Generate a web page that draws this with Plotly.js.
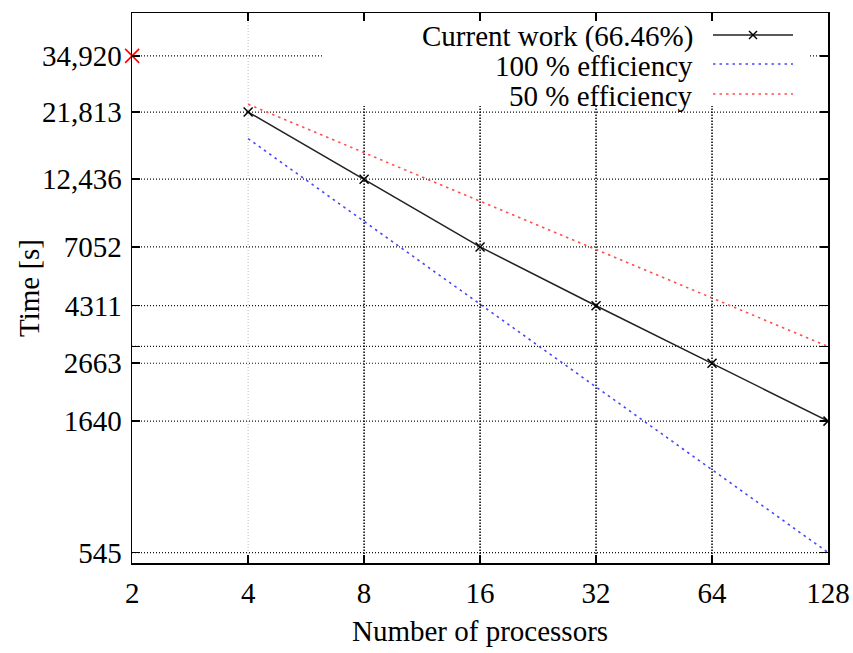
<!DOCTYPE html>
<html>
<head>
<meta charset="utf-8">
<script src="https://cdn.plot.ly/plotly-3.0.1.min.js"></script>
<style>html,body{margin:0;padding:0;background:#fff;}#chart{width:853px;height:653px;}</style>
</head>
<body>
<div id="chart"></div>
<script>
// ---- data ----
var processors   = [4, 8, 16, 32, 64, 128];
var currentTime  = [21813, 12436, 7052, 4311, 2663, 1640];
var ideal100     = [17460, 8730, 4365, 2183, 1091, 546];
var eff50        = [23280, 15520, 10347, 6898, 4599, 3066];
var serialProc   = [2];
var serialTime   = [34920];
var seriesNames  = ['Current work (66.46%)', '100 % efficiency', '50 % efficiency'];
var xTicks       = [2, 4, 8, 16, 32, 64, 128];
var yTicks       = [545, 1640, 2663, 3066, 4311, 7052, 12436, 21813, 34920];
var yTickText    = ['545', '1640', '2663', '', '4311', '7052', '12,436', '21,813', '34,920'];
var xTitle = 'Number of processors';
var yTitle = 'Time [s]';

// ---- styling ----
var FONT = 'Liberation Serif';
var FS = 29;
var W = 853, H = 653;
var M = {l: 132, r: 25, t: 13, b: 90};
var plotW = W - M.l - M.r, plotH = H - M.t - M.b;
function px(x) { return (x - M.l) / plotW; }      // pixel -> paper x
function py(y) { return (H - M.b - y) / plotH; }  // pixel -> paper y
var gridDash = '1px,2px';
var vGridDash = '1.5px,1.5px';
var colDash = '2.5px,4px';
var BLUE = '#4646ff', RED = '#ff4d4d', BLK = '#222';
var GRID = '#111', GRID_LIGHT = '#c8c8c8';
var yRange = [Math.log10(500), Math.log10(50000)];
var xRange = [Math.log10(2) - 0.0004, Math.log10(128)];
var keyBottomVal = Math.pow(10, yRange[0] + py(106) * (yRange[1] - yRange[0]));
var yMinVal = Math.pow(10, yRange[0]);
var yMaxVal = Math.pow(10, yRange[1]);

var traces = [];
// vertical grid lines at the inner x ticks
xTicks.slice(1, -1).forEach(function (v, i) {
  traces.push({x: [v, v], y: [yMinVal, i === 0 ? yMaxVal : keyBottomVal], mode: 'lines',
    hoverinfo: 'skip', showlegend: false,
    line: {color: i === 0 ? GRID_LIGHT : '#000', width: i === 0 ? 1.2 : 1.5, dash: i === 0 ? gridDash : vGridDash}});
});
traces.push(
  {x: processors, y: currentTime, mode: 'lines+markers', name: seriesNames[0],
   line: {color: BLK, width: 1.5},
   marker: {symbol: 'x-thin-open', size: 9, color: '#000', line: {width: 1.5, color: '#000'}}},
  {x: processors, y: ideal100, mode: 'lines', name: seriesNames[1],
   line: {color: BLUE, width: 1.6, dash: colDash}},
  {x: processors, y: eff50, mode: 'lines', name: seriesNames[2],
   line: {color: RED, width: 1.6, dash: colDash}},
  {x: serialProc, y: serialTime, mode: 'markers', name: 'serial', cliponaxis: false,
   marker: {symbol: 'x-thin-open', size: 14, color: '#ff0000', line: {width: 1.6, color: '#ff0000'}}}
);

var shapes = [];
yTicks.forEach(function (v) {
  shapes.push({type: 'line', layer: 'below', xref: 'x domain', yref: 'y',
    x0: 0, x1: 1, y0: v, y1: v,
    line: {color: GRID, width: 1.2, dash: gridDash}});
});
shapes.push({type: 'rect', layer: 'below', xref: 'x domain', yref: 'y domain',
  x0: px(323), x1: px(810), y0: py(106), y1: py(14),
  fillcolor: '#ffffff', line: {width: 0}});

var keyRows = [36, 66, 96];
var keySampleY = [35, 64, 94];
var keyStyles = [{color: BLK, width: 1.5}, {color: BLUE, width: 1.6, dash: colDash}, {color: RED, width: 1.6, dash: colDash}];
var annotations = [];
for (var i = 0; i < 3; i++) {
  annotations.push({xref: 'paper', yref: 'paper', x: px(695), y: py(keyRows[i]),
    xanchor: 'right', yanchor: 'middle', showarrow: false, text: seriesNames[i],
    font: {family: FONT, size: FS, color: '#000'}});
  shapes.push({type: 'line', layer: 'above', xref: 'paper', yref: 'paper',
    x0: px(713), x1: px(793), y0: py(keySampleY[i]), y1: py(keySampleY[i]), line: keyStyles[i]});
}
[0, 1].forEach(function (j) {
  shapes.push({type: 'line', layer: 'above', xref: 'paper', yref: 'paper',
    xsizemode: 'pixel', ysizemode: 'pixel', xanchor: px(753), yanchor: py(keySampleY[0]),
    x0: -4, x1: 4, y0: j ? -4 : 4, y1: j ? 4 : -4, line: {color: '#000', width: 1.5}});
});

annotations.push({xref: 'paper', yref: 'paper', x: 0.5, y: py(631), xanchor: 'center', yanchor: 'middle',
  showarrow: false, text: xTitle, font: {family: FONT, size: FS, color: '#000'}});
annotations.push({xref: 'paper', yref: 'paper', x: px(29), y: 0.5, xanchor: 'center', yanchor: 'middle',
  textangle: -90, showarrow: false, text: yTitle, font: {family: FONT, size: FS, color: '#000'}});

var axisCommon = {
  showline: true, linecolor: '#000', linewidth: 1.5, mirror: 'ticks',
  ticks: 'inside', ticklen: 8, tickwidth: 1.5, tickcolor: '#000',
  showgrid: false, zeroline: false, tickfont: {family: FONT, size: FS, color: '#000'}
};

var layout = {
  width: W, height: H, margin: M,
  paper_bgcolor: '#fff', plot_bgcolor: 'rgba(0,0,0,0)', showlegend: false,
  font: {family: FONT, size: FS, color: '#000'},
  xaxis: Object.assign({}, axisCommon, {
    type: 'log', range: xRange,
    tickmode: 'array', tickvals: xTicks, ticktext: xTicks.map(String),
    ticklabelstandoff: 4
  }),
  yaxis: Object.assign({}, axisCommon, {
    type: 'log', range: yRange,
    tickmode: 'array', tickvals: yTicks, ticktext: yTickText,
    ticklabelstandoff: 3
  }),
  shapes: shapes,
  annotations: annotations
};

Plotly.newPlot('chart', traces, layout, {displayModeBar: false, staticPlot: true});
</script>
</body>
</html>
